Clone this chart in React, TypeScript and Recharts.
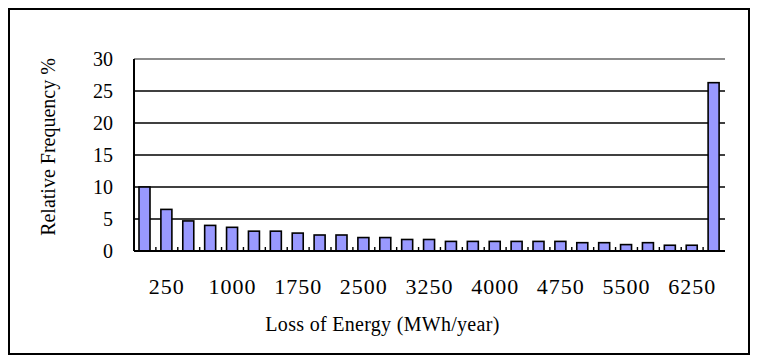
import {
  BarChart,
  Bar,
  XAxis,
  YAxis,
  CartesianGrid,
  ReferenceLine,
} from "recharts";

const bins = [
  "0", "250", "500", "750", "1000", "1250", "1500", "1750", "2000",
  "2250", "2500", "2750", "3000", "3250", "3500", "3750", "4000", "4250",
  "4500", "4750", "5000", "5250", "5500", "5750", "6000", "6250", "6500",
];

const frequency = [
  10.0, 6.5, 4.7, 4.0, 3.7, 3.1, 3.1, 2.8, 2.5, 2.5, 2.1, 2.1, 1.8, 1.8,
  1.5, 1.5, 1.5, 1.5, 1.5, 1.5, 1.3, 1.3, 1.0, 1.3, 0.9, 0.9, 26.3,
];

const shownLabels = ["250", "1000", "1750", "2500", "3250", "4000", "4750", "5500", "6250"];
const yTicks = [0, 5, 10, 15, 20, 25, 30];

const data = bins.map((bin, i) => ({ bin, freq: frequency[i] }));

const FONT = "'Liberation Serif', 'Times New Roman', serif";
const TICK_GAP = 27;

// label plus the small inside tick mark on the left edge of each category
const XTick = (props: any) => {
  const { x, y, payload, index, width, visibleTicksCount } = props;
  let off = payload && payload.offset ? payload.offset : 0;
  if (!off && width && visibleTicksCount) off = width / visibleTicksCount / 2;
  if (!off) off = 10.95;
  const axisY = y - TICK_GAP;
  const label = shownLabels.includes(payload.value) ? payload.value : "";
  return (
    <g>
      {index > 0 && (
        <line
          x1={x - off}
          x2={x - off}
          y1={axisY}
          y2={axisY - 4}
          stroke="#000"
          strokeWidth={1.4}
        />
      )}
      <text
        x={x}
        y={y}
        dy="0.71em"
        textAnchor="middle"
        fill="#000"
        fontSize={22}
        letterSpacing={1}
        fontFamily={FONT}
      >
        {label}
      </text>
    </g>
  );
};

const BarShape = (props: any) => {
  const { x, y, width, height } = props;
  if (!height) return null;
  return (
    <rect
      x={x}
      y={y}
      width={width}
      height={height}
      fill="#9999ff"
      stroke="#000"
      strokeWidth={1.6}
    />
  );
};

const App = () => {
  return (
    <div
      style={{
        width: 742,
        height: 347,
        border: "2px solid #000",
        boxSizing: "border-box",
        background: "#fff",
        fontFamily: FONT,
      }}
    >
      <BarChart
        width={738}
        height={343}
        data={data}
        margin={{ top: 49, right: 23, left: 0, bottom: 0 }}
      >
        <CartesianGrid horizontal vertical={false} stroke="#000" strokeWidth={1.3} />
        <XAxis
          dataKey="bin"
          interval={0}
          height={102}
          tickLine={false}
          tickSize={0}
          tickMargin={TICK_GAP}
          axisLine={{ stroke: "#000", strokeWidth: 2 }}
          tick={<XTick />}
          label={{
            value: "Loss of Energy (MWh/year)",
            position: "insideBottom",
            offset: 22,
            dx: -47,
            fill: "#000",
            fontSize: 20,
            fontFamily: FONT,
            letterSpacing: 0.3,
          }}
        />
        <YAxis
          domain={[0, 30]}
          ticks={yTicks}
          width={124}
          tickLine={false}
          tickSize={0}
          tickMargin={21}
          axisLine={{ stroke: "#000", strokeWidth: 2 }}
          tick={{ fill: "#000", fontSize: 20, fontFamily: FONT }}
          label={{
            value: "Relative Frequency %",
            angle: -90,
            position: "center",
            dx: -24,
            dy: -8,
            fill: "#000",
            fontSize: 20,
            fontFamily: FONT,
          }}
        />
        <YAxis
          yAxisId="right"
          orientation="right"
          domain={[0, 30]}
          width={0}
          tick={false}
          tickLine={false}
          axisLine={{ stroke: "#8c8c8c", strokeWidth: 2 }}
        />
        <ReferenceLine y={30} stroke="#8c8c8c" strokeWidth={2} />
        <Bar
          dataKey="freq"
          barSize={11}
          shape={<BarShape />}
          isAnimationActive={false}
        />
      </BarChart>
    </div>
  );
};

export default App;
